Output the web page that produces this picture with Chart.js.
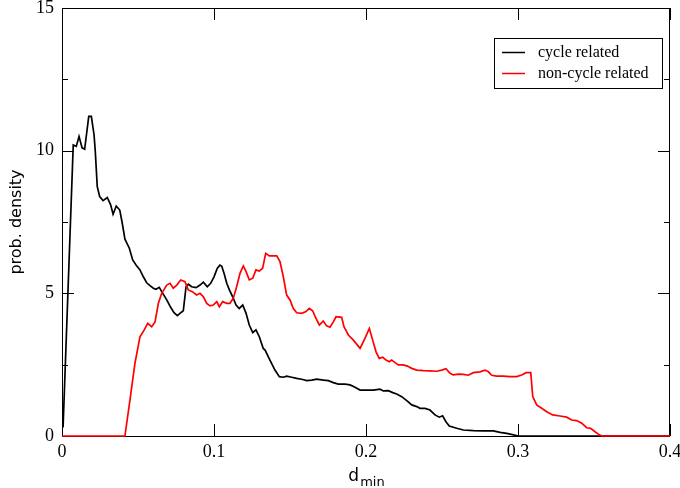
<!DOCTYPE html>
<html>
<head>
<meta charset="utf-8">
<title>prob. density vs d_min</title>
<script src="https://cdn.jsdelivr.net/npm/chart.js@4.4.1/dist/chart.umd.min.js"></script>
<style>
  html, body { margin: 0; padding: 0; background: #fff; }
  #wrap { width: 680px; height: 488px; position: relative; }
</style>
</head>
<body>
<div id="wrap"><canvas id="densityChart"></canvas></div>
<script>
// cycle related
const cycleX = [0.0007, 0.0074, 0.0094, 0.0112, 0.0132, 0.0149, 0.0176, 0.0193, 0.0211, 0.0219,
  0.0232, 0.0248, 0.0270, 0.0298, 0.0320, 0.0336, 0.0357, 0.0380, 0.0395, 0.0414,
  0.0443, 0.0465, 0.0487, 0.0513, 0.0535, 0.0557, 0.0579, 0.0601, 0.0618, 0.0640,
  0.0663, 0.0689, 0.0715, 0.0737, 0.0759, 0.0776, 0.0798, 0.0816, 0.0831, 0.0853,
  0.0882, 0.0908, 0.0930, 0.0956, 0.0978, 0.1000, 0.1022, 0.1039, 0.1051, 0.1066,
  0.1084, 0.1101, 0.1123, 0.1145, 0.1166, 0.1189, 0.1211, 0.1232, 0.1255, 0.1276,
  0.1298, 0.1324, 0.1336, 0.1368, 0.1401, 0.1430, 0.1456, 0.1478, 0.1511, 0.1544,
  0.1577, 0.1610, 0.1643, 0.1676, 0.1719, 0.1752, 0.1785, 0.1818, 0.1862, 0.1895,
  0.1928, 0.1961, 0.1993, 0.2048, 0.2092, 0.2114, 0.2147, 0.2176, 0.2202, 0.2235,
  0.2268, 0.2301, 0.2334, 0.2355, 0.2388, 0.2421, 0.2454, 0.2482, 0.2504, 0.2526,
  0.2548, 0.2597, 0.2641, 0.2707, 0.2772, 0.2838, 0.2882, 0.2926, 0.2970, 0.3002, 0.4];
const cycleY = [0.3, 10.2, 10.15, 10.5, 10.1, 10.05, 11.2, 11.2, 10.55, 9.97,
  8.74, 8.39, 8.25, 8.36, 8.1, 7.77, 8.06, 7.92, 7.5, 6.9,
  6.58, 6.17, 5.99, 5.82, 5.58, 5.37, 5.27, 5.18, 5.14, 5.21,
  5.0, 4.77, 4.51, 4.32, 4.22, 4.3, 4.39, 5.23, 5.32, 5.23,
  5.2, 5.29, 5.39, 5.23, 5.35, 5.58, 5.88, 5.99, 5.95, 5.7,
  5.35, 5.12, 4.88, 4.59, 4.47, 4.59, 4.3, 3.89, 3.62, 3.72,
  3.48, 3.07, 3.01, 2.66, 2.31, 2.08, 2.06, 2.1, 2.06, 2.02,
  1.99, 1.94, 1.96, 1.99, 1.96, 1.94, 1.87, 1.82, 1.82, 1.79,
  1.71, 1.61, 1.61, 1.61, 1.64, 1.58, 1.59, 1.52, 1.47, 1.38,
  1.24, 1.09, 1.03, 0.97, 0.97, 0.91, 0.74, 0.66, 0.71, 0.5,
  0.35, 0.27, 0.21, 0.19, 0.18, 0.18, 0.13, 0.09, 0.04, 0.0, 0.0];

// non-cycle related
const nonCycleX = [0.0, 0.0414, 0.0447, 0.0480, 0.0513, 0.0541, 0.0564, 0.0590, 0.0612, 0.0634,
  0.0656, 0.0689, 0.0711, 0.0732, 0.0755, 0.0781, 0.0809, 0.0831, 0.0857, 0.0886,
  0.0908, 0.0930, 0.0952, 0.0974, 0.0995, 0.1018, 0.1035, 0.1057, 0.1084, 0.1105,
  0.1127, 0.1149, 0.1171, 0.1193, 0.1211, 0.1232, 0.1255, 0.1276, 0.1298, 0.1320,
  0.1340, 0.1364, 0.1390, 0.1413, 0.1434, 0.1456, 0.1478, 0.1500, 0.1522, 0.1544,
  0.1577, 0.1605, 0.1627, 0.1649, 0.1671, 0.1693, 0.1719, 0.1741, 0.1763, 0.1785,
  0.1803, 0.1840, 0.1855, 0.1884, 0.1917, 0.1961, 0.1993, 0.2022, 0.2044, 0.2066,
  0.2087, 0.2110, 0.2132, 0.2153, 0.2169, 0.2191, 0.2213, 0.2245, 0.2272, 0.2301,
  0.2334, 0.2377, 0.2421, 0.2465, 0.2498, 0.2526, 0.2553, 0.2574, 0.2607, 0.2641,
  0.2673, 0.2706, 0.2750, 0.2783, 0.2805, 0.2827, 0.2860, 0.2903, 0.2947, 0.2991,
  0.3024, 0.3053, 0.3084, 0.3097, 0.3123, 0.3156, 0.3189, 0.3228, 0.3276, 0.3320,
  0.3353, 0.3386, 0.3419, 0.3452, 0.3478, 0.3507, 0.3535, 0.3551, 0.4];
const nonCycleY = [0, 0, 1.26, 2.55, 3.48, 3.72, 3.95, 3.83, 4.0, 4.65,
  5.0, 5.29, 5.35, 5.18, 5.29, 5.47, 5.41, 5.12, 5.06, 4.94,
  5.0, 4.88, 4.65, 4.56, 4.59, 4.71, 4.53, 4.71, 4.65, 4.65,
  4.83, 5.23, 5.7, 5.96, 5.76, 5.47, 5.53, 5.82, 5.78, 5.88,
  6.4, 6.31, 6.31, 6.31, 6.11, 5.58, 4.94, 4.77, 4.47, 4.32,
  4.3, 4.36, 4.47, 4.39, 4.12, 3.89, 4.03, 3.86, 3.81, 4.0,
  4.18, 4.16, 3.83, 3.54, 3.36, 3.07, 3.42, 3.77, 3.36, 2.95,
  2.72, 2.76, 2.66, 2.6, 2.66, 2.57, 2.49, 2.49, 2.45, 2.37,
  2.31, 2.29, 2.28, 2.27, 2.31, 2.36, 2.2, 2.14, 2.17, 2.16,
  2.13, 2.22, 2.25, 2.31, 2.25, 2.13, 2.1, 2.1, 2.08, 2.08,
  2.14, 2.22, 2.22, 1.38, 1.09, 0.97, 0.85, 0.74, 0.7, 0.66,
  0.56, 0.54, 0.45, 0.29, 0.27, 0.15, 0.04, 0, 0];

const xTicks = [0, 0.1, 0.2, 0.3, 0.4];
const yTicks = [0, 5, 10, 15];
const yMinorTicks = [2.5, 7.5, 12.5];
const seriesNames = ['cycle related', 'non-cycle related'];
const seriesColors = ['#000000', '#ff0000'];

const toPoints = (xs, ys) => xs.map((x, i) => ({ x: x, y: ys[i] }));

const serif = '"Liberation Serif", "Times New Roman", serif';
const sans = '"DejaVu Sans", sans-serif';

// frame with inward ticks on all four sides
const framePlugin = {
  id: 'frame',
  beforeDatasetsDraw(chart) {
    const { ctx, chartArea: a, scales } = chart;
    ctx.save();
    ctx.strokeStyle = '#000';
    ctx.lineWidth = 1;
    ctx.strokeRect(a.left + 0.5, a.top + 0.5, a.right - a.left - 1, a.bottom - a.top);
    ctx.beginPath();
    xTicks.forEach(v => {
      const px = Math.round(scales.x.getPixelForValue(v)) + 0.5;
      ctx.moveTo(px, a.bottom); ctx.lineTo(px, a.bottom - 12);
      ctx.moveTo(px, a.top); ctx.lineTo(px, a.top + 12);
    });
    yTicks.forEach(v => {
      const py = Math.round(scales.y.getPixelForValue(v)) + 0.5;
      ctx.moveTo(a.left, py); ctx.lineTo(a.left + 12, py);
      ctx.moveTo(a.right, py); ctx.lineTo(a.right - 12, py);
    });
    yMinorTicks.forEach(v => {
      const py = Math.round(scales.y.getPixelForValue(v)) + 0.5;
      ctx.moveTo(a.left, py); ctx.lineTo(a.left + 6, py);
      ctx.moveTo(a.right, py); ctx.lineTo(a.right - 6, py);
    });
    ctx.stroke();
    ctx.restore();
  },
  afterDraw(chart) {
    const { ctx, chartArea: a } = chart;
    ctx.save();
    // y title
    ctx.fillStyle = '#000';
    ctx.font = '16px ' + sans;
    ctx.textAlign = 'center';
    ctx.textBaseline = 'middle';
    ctx.translate(17, (a.top + a.bottom) / 2);
    ctx.rotate(-Math.PI / 2);
    ctx.fillText('prob. density', 0, 0);
    ctx.restore();

    // x title with subscript
    ctx.save();
    ctx.fillStyle = '#000';
    ctx.textBaseline = 'alphabetic';
    ctx.textAlign = 'left';
    ctx.font = '17px ' + sans;
    const dW = ctx.measureText('d').width;
    ctx.font = '13px ' + sans;
    const subW = ctx.measureText('min').width;
    const x0 = (a.left + a.right) / 2 - (dW + subW) / 2;
    ctx.font = '17px ' + sans;
    ctx.fillText('d', x0, 481);
    ctx.font = '13px ' + sans;
    ctx.fillText('min', x0 + dW + 1, 486);
    ctx.restore();

    // legend box
    ctx.save();
    ctx.fillStyle = '#fff';
    ctx.fillRect(494, 38, 169, 50);
    ctx.strokeStyle = '#000';
    ctx.lineWidth = 1;
    ctx.strokeRect(494.5, 38.5, 168, 50);
    ctx.font = '16px ' + serif;
    ctx.textBaseline = 'middle';
    ctx.textAlign = 'left';
    seriesNames.forEach((name, i) => {
      const y = 52.5 + i * 21;
      ctx.strokeStyle = seriesColors[i];
      ctx.lineWidth = 1.5;
      ctx.beginPath();
      ctx.moveTo(502, y); ctx.lineTo(525, y);
      ctx.stroke();
      ctx.fillStyle = '#000';
      ctx.fillText(name, 538, y);
    });
    ctx.restore();
  }
};

const ctx = document.getElementById('densityChart').getContext('2d');
new Chart(ctx, {
  type: 'line',
  data: {
    datasets: [
      {
        label: seriesNames[0],
        data: toPoints(cycleX, cycleY),
        borderColor: seriesColors[0],
        borderWidth: 1.7,
        pointRadius: 0,
        tension: 0,
        clip: 4,
        order: 2
      },
      {
        label: seriesNames[1],
        data: toPoints(nonCycleX, nonCycleY),
        borderColor: seriesColors[1],
        borderWidth: 1.7,
        pointRadius: 0,
        tension: 0,
        clip: 4,
        order: 1
      }
    ]
  },
  options: {
    responsive: true,
    maintainAspectRatio: false,
    animation: false,
    layout: { padding: { top: 8, right: 10, left: 0, bottom: 0 } },
    plugins: {
      legend: { display: false },
      tooltip: { enabled: false }
    },
    scales: {
      x: {
        type: 'linear',
        min: 0,
        max: 0.4,
        grid: { display: false, drawTicks: false },
        border: { display: false },
        afterBuildTicks: s => { s.ticks = xTicks.map(v => ({ value: v })); },
        afterFit: s => { s.height = 52; s.paddingLeft = 0; s.paddingRight = 0; },
        ticks: {
          color: '#000',
          font: { family: serif, size: 18 },
          padding: 5,
          maxRotation: 0,
          callback: v => String(v)
        }
      },
      y: {
        type: 'linear',
        min: 0,
        max: 15,
        grid: { display: false, drawTicks: false },
        border: { display: false },
        afterBuildTicks: s => { s.ticks = yTicks.map(v => ({ value: v })); },
        afterFit: s => { s.width = 62; s.paddingTop = 0; s.paddingBottom = 0; },
        ticks: {
          color: '#000',
          font: { family: serif, size: 18 },
          padding: 8,
          callback: v => String(v)
        }
      }
    }
  },
  plugins: [framePlugin]
});
</script>
</body>
</html>
